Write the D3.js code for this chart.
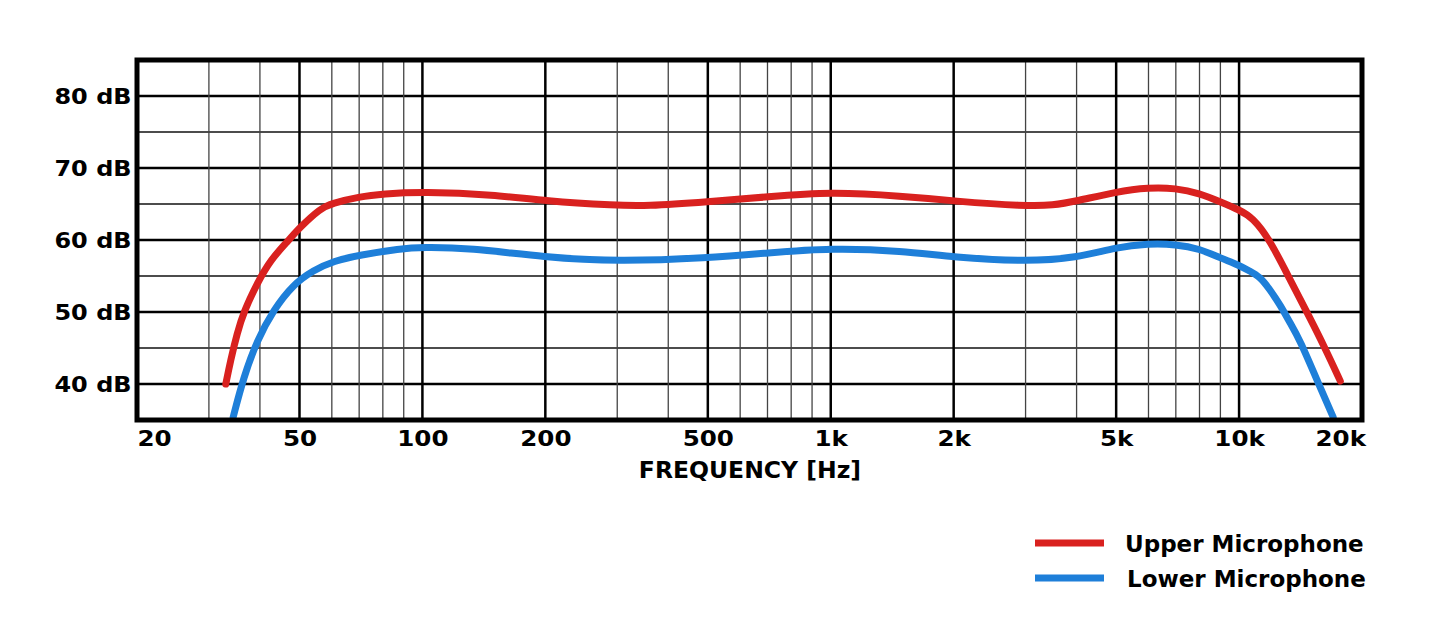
<!DOCTYPE html>
<html>
<head>
<meta charset="utf-8">
<script src="https://cdn.jsdelivr.net/npm/d3@7"></script>
<style>
  body { margin: 0; background: #fff; }
  text { font-family: "DejaVu Sans", sans-serif; font-weight: bold; fill: #000; }
</style>
</head>
<body>
<svg id="chart" width="1440" height="635"></svg>
<script>
// frequency response data (Hz, dB)
var upperFreq = [33, 33.9, 35.2, 36.5, 39.4, 42.4, 47.1, 50, 56.3, 60, 70, 80, 100, 150, 200, 300, 350, 500, 700, 1000, 1500, 2000, 3000, 3500, 4000, 5000, 6000, 7000, 8000, 9000, 10000, 10800, 11900, 13300, 14900, 16200, 17700];
var upperDb   = [40, 43.3, 47.1, 50, 54, 57.2, 60, 61.7, 64.4, 65.1, 66, 66.4, 66.7, 66.3, 65.4, 64.8, 64.7, 65.3, 66, 66.7, 66.1, 65.4, 64.7, 64.8, 65.4, 66.7, 67.3, 67.2, 66.5, 65.3, 64.2, 63.1, 60, 54.6, 49.2, 45.1, 40.4];

var lowerFreq = [34.4, 36.5, 39.4, 43.2, 48.2, 54.1, 60.7, 70.1, 88.2, 100, 130, 200, 300, 500, 700, 1000, 1500, 2000, 3000, 4000, 5000, 6000, 7000, 8000, 9000, 10000, 10600, 11250, 11900, 12600, 13300, 14100, 15500, 17000];
var lowerDb   = [35.4, 41, 46.1, 50.3, 53.8, 55.8, 57.1, 57.9, 58.8, 59, 58.9, 57.6, 57.0, 57.5, 58.2, 58.9, 58.5, 57.6, 57.0, 57.5, 59, 59.5, 59.4, 58.8, 57.5, 56.5, 55.7, 54.9, 53.1, 51, 48.6, 46.1, 40.6, 35.4];

var xLabelValues = [20, 50, 100, 200, 500, 1000, 2000, 5000, 10000, 20000];
var xLabels = ["20", "50", "100", "200", "500", "1k", "2k", "5k", "10k", "20k"];
var xMinor = [30, 40, 60, 70, 80, 90, 300, 400, 600, 700, 800, 900, 3000, 4000, 6000, 7000, 8000, 9000];
var xMajor = [50, 100, 200, 500, 1000, 2000, 5000, 10000];
var yLabelValues = [40, 50, 60, 70, 80];
var yMinor = [45, 55, 65, 75];

var seriesNames = ["Upper Microphone", "Lower Microphone"];
var seriesColors = ["#d9211f", "#1e7fd9"];

var svg = d3.select("#chart"),
    margin = { top: 60, right: 78, bottom: 215, left: 137 },
    width = +svg.attr("width") - margin.left - margin.right,
    height = +svg.attr("height") - margin.top - margin.bottom;

var x = d3.scaleLog().domain([20, 20000]).range([0, width]);
var y = d3.scaleLinear().domain([35, 85]).range([height, 0]);

var g = svg.append("g")
    .attr("transform", "translate(" + margin.left + "," + margin.top + ")");

// grid
g.append("g").selectAll("line").data(yMinor).enter().append("line")
    .attr("x1", 0).attr("x2", width)
    .attr("y1", d => y(d)).attr("y2", d => y(d))
    .attr("stroke", "#111").attr("stroke-width", 1.5);
g.append("g").selectAll("line").data(yLabelValues).enter().append("line")
    .attr("x1", 0).attr("x2", width)
    .attr("y1", d => y(d)).attr("y2", d => y(d))
    .attr("stroke", "#000").attr("stroke-width", 2.5);
g.append("g").selectAll("line").data(xMinor).enter().append("line")
    .attr("x1", d => x(d)).attr("x2", d => x(d))
    .attr("y1", 0).attr("y2", height)
    .attr("stroke", "#444").attr("stroke-width", 1.3);
g.append("g").selectAll("line").data(xMajor).enter().append("line")
    .attr("x1", d => x(d)).attr("x2", d => x(d))
    .attr("y1", 0).attr("y2", height)
    .attr("stroke", "#000").attr("stroke-width", 2.5);

// curves
g.append("clipPath").attr("id", "plot-clip")
    .append("rect").attr("width", width).attr("height", height);

var line = d3.line()
    .x(d => x(d[0]))
    .y(d => y(d[1]))
    .curve(d3.curveBasis);

var series = [d3.zip(upperFreq, upperDb), d3.zip(lowerFreq, lowerDb)];

g.append("g").attr("clip-path", "url(#plot-clip)")
    .selectAll("path").data(series).enter().append("path")
    .attr("d", line)
    .attr("fill", "none")
    .attr("stroke", (d, i) => seriesColors[i])
    .attr("stroke-width", 7)
    .attr("stroke-linecap", "round")
    .attr("stroke-linejoin", "round");

// frame
g.append("rect")
    .attr("width", width).attr("height", height)
    .attr("fill", "none").attr("stroke", "#000").attr("stroke-width", 5);

// axis labels (the original type is a wide heavy face, so stretch a little)
var xAxis = g.append("g")
    .attr("transform", "translate(0," + height + ")")
    .call(d3.axisBottom(x).tickValues(xLabelValues).tickFormat((d, i) => xLabels[i]).tickSize(0).tickPadding(11));
xAxis.select(".domain").remove();
xAxis.selectAll("text")
    .attr("font-size", "21px")
    .style("font-family", "'DejaVu Sans', sans-serif").style("font-weight", "bold").style("fill", "#000")
    .attr("transform", "scale(1.17,1)")
    .attr("text-anchor", (d, i) => i === 0 ? "start" : (i === xLabels.length - 1 ? "end" : "middle"))
    .attr("x", (d, i) => i === xLabels.length - 1 ? 3 : 0);

var yAxis = g.append("g")
    .call(d3.axisLeft(y).tickValues(yLabelValues).tickFormat(d => d + " dB").tickSize(0).tickPadding(5));
yAxis.select(".domain").remove();
yAxis.selectAll("text")
    .attr("font-size", "22px")
    .style("font-family", "'DejaVu Sans', sans-serif").style("font-weight", "bold").style("fill", "#000")
    .attr("transform", "scale(1.09,1)");

svg.append("text")
    .attr("x", 750).attr("y", 478)
    .attr("text-anchor", "middle")
    .attr("font-size", "23.5px")
    .text("FREQUENCY [Hz]");

// legend
var legend = svg.append("g").attr("transform", "translate(1035,543)");
seriesNames.forEach(function (name, i) {
    var row = legend.append("g").attr("transform", "translate(0," + (i * 35) + ")");
    row.append("line")
        .attr("x1", 0).attr("x2", 69)
        .attr("stroke", seriesColors[i]).attr("stroke-width", 7);
    row.append("text")
        .attr("x", 90 + i * 2).attr("y", 9)
        .attr("font-size", "23px")
        .text(name);
});
</script>
</body>
</html>
